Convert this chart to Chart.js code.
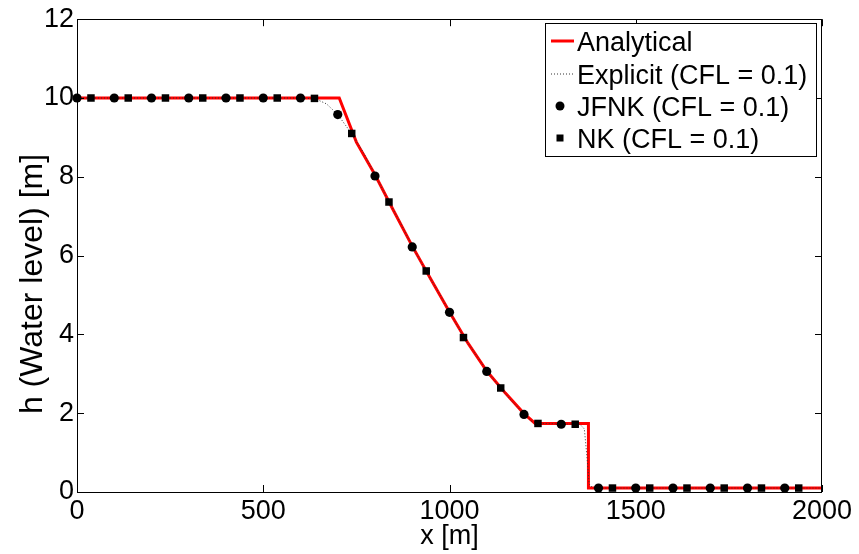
<!DOCTYPE html>
<html>
<head>
<meta charset="utf-8">
<script src="https://cdn.jsdelivr.net/npm/chart.js@4.4.1/dist/chart.umd.min.js"></script>
<style>
  html, body { margin: 0; padding: 0; background: #fff; }
  #c { display: block; }
</style>
</head>
<body>
<canvas id="c" width="859" height="554"></canvas>
<script>
// ---- Data ----
const analyticalX = [0, 704, 750, 800, 850, 900, 950, 1000, 1050, 1100, 1150, 1200, 1230, 1373, 1373, 2000];
const analyticalH = [10, 10, 8.88, 8.05, 7.14, 6.24, 5.40, 4.57, 3.77, 3.07, 2.51, 1.99, 1.74, 1.74, 0.1, 0.1];

const explicitX = [0, 600, 640, 670, 700, 737, 770, 802, 838, 870, 901, 937, 970, 1001, 1039, 1070, 1101, 1137, 1170, 1202, 1220, 1238, 1350, 1362, 1368, 1375, 1385, 2000];
const explicitH = [10, 10, 9.98, 9.85, 9.58, 9.10, 8.60, 8.02, 7.36, 6.80, 6.22, 5.61, 5.08, 4.56, 3.92, 3.50, 3.06, 2.64, 2.28, 1.97, 1.80, 1.74, 1.72, 1.60, 1.00, 0.20, 0.1, 0.1];

const jfnkX = [0, 100, 200, 300, 400, 500, 600, 700, 800, 900, 1000, 1100, 1200, 1300, 1400, 1500, 1600, 1700, 1800, 1900];
const jfnkH = [10, 10, 10, 10, 10, 10, 10, 9.58, 8.02, 6.22, 4.56, 3.06, 1.97, 1.72, 0.1, 0.1, 0.1, 0.1, 0.1, 0.1];

const nkX = [37.5, 137.5, 237.5, 337.5, 437.5, 537.5, 637.5, 737.5, 837.5, 937.5, 1037.5, 1137.5, 1237.5, 1337.5, 1437.5, 1537.5, 1637.5, 1737.5, 1837.5, 1937.5];
const nkH = [10, 10, 10, 10, 10, 10, 9.99, 9.10, 7.36, 5.61, 3.92, 2.64, 1.74, 1.72, 0.1, 0.1, 0.1, 0.1, 0.1, 0.1];

const seriesLabels = ["Analytical", "Explicit (CFL = 0.1)", "JFNK (CFL = 0.1)", "NK (CFL = 0.1)"];
const xTickValues = [0, 500, 1000, 1500, 2000];
const yTickValues = [0, 2, 4, 6, 8, 10, 12];
const xTitle = "x [m]";
const yTitle = "h (Water level) [m]";

const toPts = (xs, ys) => xs.map((x, i) => ({ x: x, y: ys[i] }));

const FONT = "'Liberation Sans', Arial, Helvetica, sans-serif";
const FS = 27;
const FS_YTITLE = 32;

// Box + inward ticks (MATLAB style), y-axis title, legend
const boxPlugin = {
  id: 'boxTicks',
  afterDraw(chart) {
    const { ctx, chartArea: a, scales } = chart;
    ctx.save();
    ctx.strokeStyle = '#000';
    ctx.lineWidth = 1;
    ctx.strokeRect(Math.round(a.left) + 0.5, Math.round(a.top) + 0.5,
                   Math.round(a.right - a.left) - 1, Math.round(a.bottom - a.top));
    const L = 7;
    ctx.beginPath();
    xTickValues.forEach(v => {
      const px = Math.round(scales.x.getPixelForValue(v)) + 0.5;
      ctx.moveTo(px, a.bottom); ctx.lineTo(px, a.bottom - L);
      ctx.moveTo(px, a.top); ctx.lineTo(px, a.top + L);
    });
    yTickValues.forEach(v => {
      const py = Math.round(scales.y.getPixelForValue(v)) + 0.5;
      ctx.moveTo(a.left, py); ctx.lineTo(a.left + L, py);
      ctx.moveTo(a.right, py); ctx.lineTo(a.right - L, py);
    });
    ctx.stroke();

    // y-axis title
    ctx.save();
    ctx.translate(33, 284);
    ctx.rotate(-Math.PI / 2);
    ctx.font = FS_YTITLE + "px " + FONT;
    ctx.fillStyle = '#000';
    ctx.textAlign = 'center';
    ctx.textBaseline = 'middle';
    ctx.fillText(yTitle, 0, 0);
    ctx.restore();

    // Legend (drawn from the chart's datasets)
    const bx = 545.5, by = 23.5, bw = 271, bh = 133;
    ctx.fillStyle = '#fff';
    ctx.fillRect(bx, by, bw, bh);
    ctx.strokeStyle = '#000';
    ctx.lineWidth = 1;
    ctx.strokeRect(bx, by, bw, bh);
    const rows = [41, 74, 106, 138];
    ctx.font = FS + "px " + FONT;
    ctx.textBaseline = 'alphabetic';
    ctx.textAlign = 'left';
    chart.data.datasets.forEach((ds, i) => {
      const cy = rows[i];
      if (ds.legendKind === 'line') {
        ctx.save();
        ctx.strokeStyle = ds.borderColor;
        ctx.lineWidth = ds.borderWidth;
        ctx.setLineDash(ds.borderDash || []);
        ctx.beginPath();
        ctx.moveTo(551, cy); ctx.lineTo(574, cy);
        ctx.stroke();
        ctx.restore();
      } else if (ds.legendKind === 'circle') {
        ctx.beginPath();
        ctx.fillStyle = '#000';
        ctx.arc(560, cy, 4.5, 0, Math.PI * 2);
        ctx.fill();
      } else {
        ctx.fillStyle = '#000';
        ctx.fillRect(556.5, cy - 3.5, 7, 7);
      }
      ctx.fillStyle = '#000';
      ctx.fillText(ds.label, 577, cy + 9.5);
    });
    ctx.restore();
  }
};

new Chart(document.getElementById('c'), {
  type: 'scatter',
  data: {
    datasets: [
      { label: seriesLabels[0], legendKind: 'line', data: toPts(analyticalX, analyticalH), showLine: true,
        borderColor: 'rgb(255,0,0)', borderWidth: 3, pointRadius: 0, tension: 0, order: 3 },
      { label: seriesLabels[1], legendKind: 'line', data: toPts(explicitX, explicitH), showLine: true,
        borderColor: '#333', borderWidth: 1, borderDash: [1, 2], pointRadius: 0, tension: 0, order: 2 },
      { label: seriesLabels[2], legendKind: 'circle', data: toPts(jfnkX, jfnkH), showLine: false,
        pointStyle: 'circle', pointRadius: 4.6, backgroundColor: '#000', borderWidth: 0, clip: false, order: 1 },
      { label: seriesLabels[3], legendKind: 'rect', data: toPts(nkX, nkH), showLine: false,
        pointStyle: 'rect', pointRadius: 5.3, backgroundColor: '#000', borderWidth: 0, clip: false, order: 0 }
    ]
  },
  options: {
    responsive: false,
    animation: false,
    devicePixelRatio: 1,
    layout: { padding: { left: 0, right: 37, top: 19, bottom: 0 } },
    plugins: { legend: { display: false }, tooltip: { enabled: false } },
    scales: {
      x: {
        type: 'linear', min: 0, max: 2000,
        afterBuildTicks: s => { s.ticks = xTickValues.map(v => ({ value: v })); },
        afterFit: s => { s.height = 62; },
        grid: { display: false, drawTicks: false },
        border: { display: false },
        ticks: { color: '#000', padding: 3, maxRotation: 0, font: { family: FONT, size: FS },
                 callback: v => String(v) },
        title: { display: true, text: xTitle, color: '#000', padding: { top: 0, bottom: 1 },
                 font: { family: FONT, size: FS } }
      },
      y: {
        type: 'linear', min: 0, max: 12,
        afterBuildTicks: s => { s.ticks = yTickValues.map(v => ({ value: v })); },
        afterFit: s => { s.width = 77; },
        grid: { display: false, drawTicks: false },
        border: { display: false },
        ticks: { color: '#000', padding: 3, font: { family: FONT, size: FS },
                 callback: v => String(v) },
        title: { display: false }
      }
    }
  },
  plugins: [boxPlugin]
});
</script>
</body>
</html>
